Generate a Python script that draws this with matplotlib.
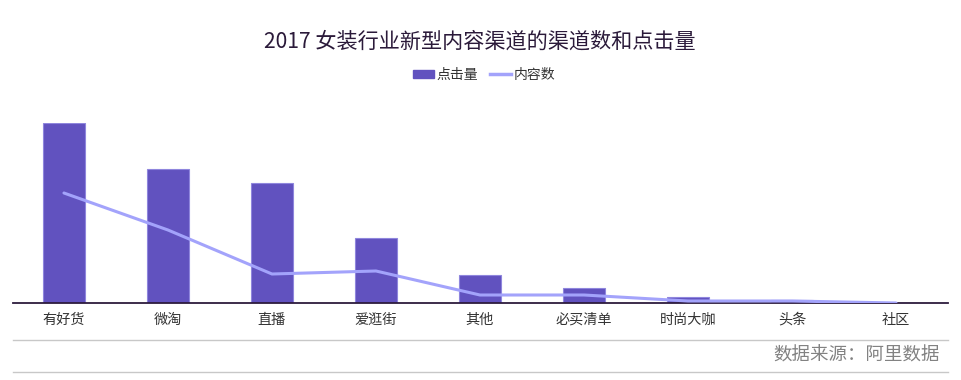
import matplotlib
matplotlib.use("Agg")
import matplotlib.pyplot as plt
from matplotlib.lines import Line2D
from matplotlib.patches import Patch

plt.rcParams['font.family'] = ['Noto Sans CJK SC', 'DejaVu Sans']

categories = ["有好货", "微淘", "直播", "爱逛街", "其他", "必买清单", "时尚大咖", "头条", "社区"]
clicks = [180, 134, 120, 65, 28, 15, 6, 3, 0]
contents = [110, 73, 29, 32, 8, 8, 2, 2, 0]

title = "2017 女装行业新型内容渠道的渠道数和点击量"
source = "数据来源：阿里数据"

W, H = 961, 380
fig = plt.figure(figsize=(W / 100, H / 100), dpi=100)
fig.patch.set_facecolor("white")

ax = fig.add_axes([13 / W, 1 - 303 / H, 935 / W, 180 / H])
x = list(range(len(categories)))
ax.bar(x, clicks, width=0.40, color="#6152BF", edgecolor="#8F86DD", linewidth=0.8, zorder=2)
ax.plot(x, contents, color="#A3A3FB", linewidth=2.2, zorder=3, solid_capstyle="round")
ax.set_xlim(-0.49, 8.5)
ax.set_ylim(0, 180)
ax.set_yticks([])
ax.set_xticks(x)
ax.set_xticklabels(categories, fontsize=10.2, color="#333333")
ax.tick_params(axis="x", length=0, pad=7)
for s in ["top", "right", "left"]:
    ax.spines[s].set_visible(False)
ax.spines["bottom"].set_color("#2D1B3D")
ax.spines["bottom"].set_linewidth(1.3)
ax.patch.set_alpha(0)

fig.text(480 / W, 1 - 42 / H, title, ha="center", va="center", fontsize=15.2, color="#2B1A3A")

handles = [Patch(facecolor="#6152BF", edgecolor="#6152BF"),
           Line2D([0], [0], color="#A3A3FB", linewidth=2.5)]
leg = fig.legend(handles, ["点击量", "内容数"], loc="center", bbox_to_anchor=(484 / W, 1 - 75 / H),
                 ncol=2, frameon=False, fontsize=10, handlelength=1.5, handleheight=0.55,
                 handletextpad=0.15, columnspacing=0.9)
for t in leg.get_texts():
    t.set_color("#333333")

for yy in (340, 372):
    fig.add_artist(Line2D([13 / W, 948 / W], [1 - yy / H, 1 - yy / H], color="#C8C8C8", linewidth=1))

fig.text(940 / W, 1 - 356 / H, source, ha="right", va="center", fontsize=13.3, color="#828282")

fig.savefig("out.png", dpi=100)
